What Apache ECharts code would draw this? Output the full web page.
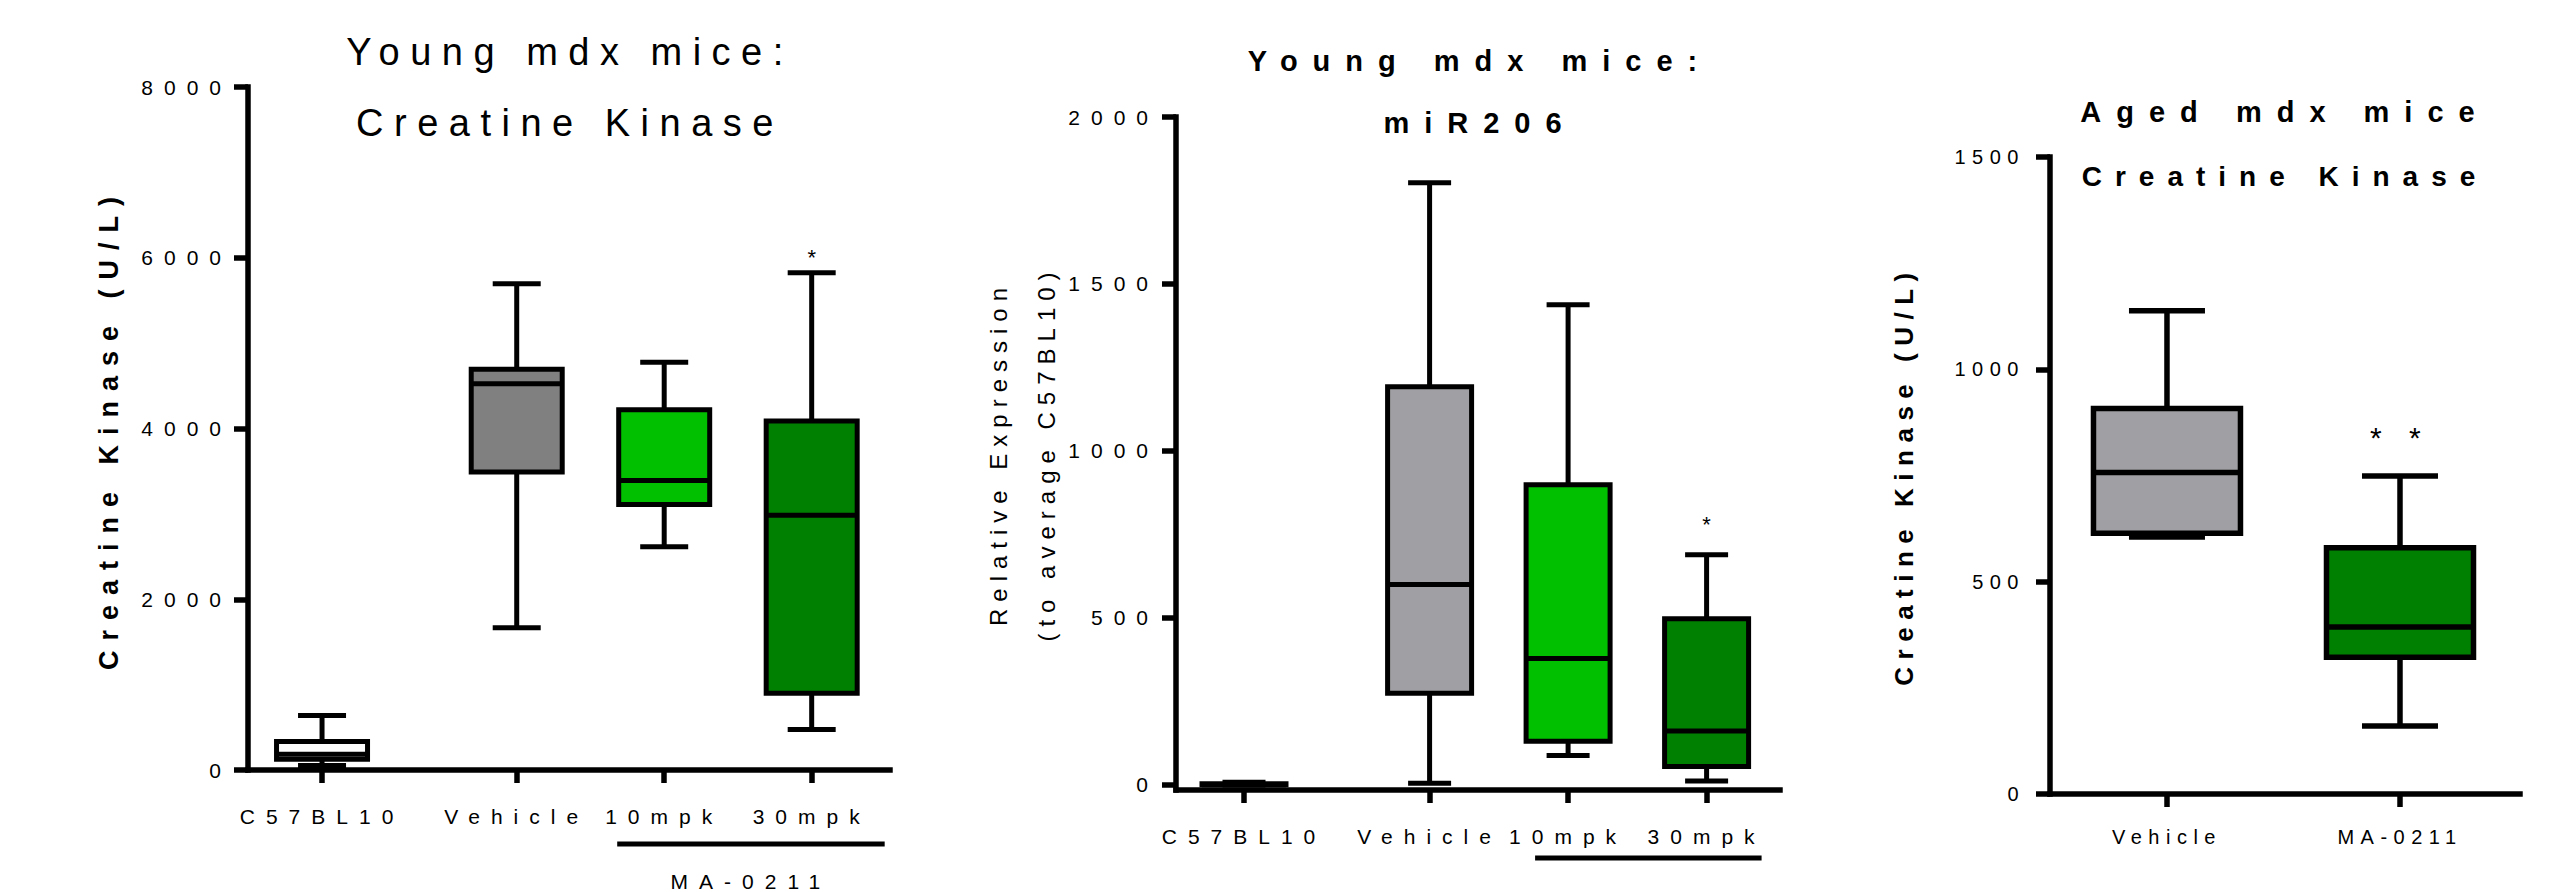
<!DOCTYPE html>
<html>
<head>
<meta charset="utf-8">
<title>mdx mice: Creatine Kinase / miR206</title>
<script src="https://cdn.jsdelivr.net/npm/echarts@6/dist/echarts.min.js"></script>
<style>
  html, body { margin: 0; padding: 0; background: #fff; }
  #ec { width: 2570px; height: 892px; }
  /* wide GraphPad-like tracking, picked by font size */
  #ec text[style*="21px"] { letter-spacing: 11px; }
  #ec text[style*="20px"] { letter-spacing: 6.5px; }
  #ec text[style*="38px"] { letter-spacing: 10.5px; }
  #ec text[style*="29px"] { letter-spacing: 15px; }
  #ec text[style*="28px"] { letter-spacing: 13px; }
  #ec text[style*="27px"] { letter-spacing: 10px; }
  #ec text[style*="26px"] { letter-spacing: 7.5px; }
  #ec text[style*="24px"] { letter-spacing: 7px; }
  #ec text[style*="30px"] { letter-spacing: 9.5px; }
</style>
</head>
<body>
<div id="ec"></div>
<script>
const FONT = 'Liberation Sans';

// Young mdx mice: creatine kinase (U/L), each box is [min, Q1, median, Q3, max]
const ckYoungGroups = ['C57BL10', 'Vehicle', '10mpk', '30mpk'];
const ckYoungBoxes = [
  [53, 125, 184, 334, 639],
  [1665, 3490, 4525, 4695, 5695],
  [2615, 3110, 3390, 4220, 4775],
  [475, 900, 2985, 4088, 5825]
];
const ckYoungSig = ['', '', '', '*'];
const ckYoungTicks = [0, 2000, 4000, 6000, 8000];

// Young mdx mice: miR206 relative expression
const mirGroups = ['C57BL10', 'Vehicle', '10mpk', '30mpk'];
const mirBoxes = [
  [0.3, 0.6, 1, 3.5, 8],
  [5, 275, 600, 1192, 1803],
  [88, 131, 379, 899, 1438],
  [12, 55, 162, 498, 689]
];
const mirSig = ['', '', '', '*'];
const mirTicks = [0, 500, 1000, 1500, 2000];

// Aged mdx mice: creatine kinase (U/L)
const ckAgedGroups = ['Vehicle', 'MA-0211'];
const ckAgedBoxes = [
  [605, 614, 757, 908, 1138],
  [160, 322, 393, 580, 749]
];
const ckAgedSig = ['', '* *'];
const ckAgedTicks = [0, 500, 1000, 1500];

const treatName = 'MA-0211';

// where the groups sit on each x axis (gap after the control group)
const ckYoungSlots = [0, 1.32, 2.32, 3.32];
const mirSlots = [0, 1.34, 2.34, 3.34];
const ckAgedSlots = [0, 1];

const ckYoungFills = ['#ffffff', '#808080', '#00c000', '#008000'];
const mirFills = ['#ffffff', '#a0a0a4', '#00c000', '#008000'];
const ckAgedFills = ['#a0a0a4', '#008000'];

function labelFor(slots, names) {
  return function (v) {
    for (let i = 0; i < slots.length; i++) {
      if (Math.abs(slots[i] - v) < 1e-6) return names[i];
    }
    return '';
  };
}

function boxSeries(idx, slots, boxes, fills, sig, look) {
  return {
    type: 'custom',
    xAxisIndex: idx,
    yAxisIndex: idx,
    silent: true,
    clip: false,
    data: boxes.map((b, i) => [slots[i]].concat(b)),
    encode: { x: 0, y: [1, 2, 3, 4, 5] },
    renderItem: function (params, api) {
      const x = api.value(0);
      const lo = api.coord([x, api.value(1)]);
      const q1 = api.coord([x, api.value(2)]);
      const med = api.coord([x, api.value(3)]);
      const q3 = api.coord([x, api.value(4)]);
      const hi = api.coord([x, api.value(5)]);
      const cx = med[0];
      const hw = look.boxW / 2;
      const cw = look.capW / 2;
      const ln = { stroke: '#000', lineWidth: look.lw };
      const kids = [
        { type: 'line', shape: { x1: cx, y1: q1[1], x2: cx, y2: lo[1] }, style: ln },
        { type: 'line', shape: { x1: cx, y1: q3[1], x2: cx, y2: hi[1] }, style: ln },
        { type: 'line', shape: { x1: cx - cw, y1: lo[1], x2: cx + cw, y2: lo[1] }, style: ln },
        { type: 'line', shape: { x1: cx - cw, y1: hi[1], x2: cx + cw, y2: hi[1] }, style: ln },
        {
          type: 'rect',
          shape: { x: cx - hw, y: q3[1], width: look.boxW, height: q1[1] - q3[1] },
          style: { fill: fills[params.dataIndex], stroke: '#000', lineWidth: look.lw }
        },
        { type: 'line', shape: { x1: cx - hw, y1: med[1], x2: cx + hw, y2: med[1] }, style: ln }
      ];
      const s = sig[params.dataIndex];
      if (s) {
        kids.push({
          type: 'text',
          x: cx,
          y: hi[1] - look.sigGap,
          style: {
            text: s, fill: '#000', fontFamily: FONT, fontSize: look.sigSize,
            align: 'center', verticalAlign: 'middle',
            textAlign: 'center', textVerticalAlign: 'middle'
          }
        });
      }
      return { type: 'group', children: kids };
    }
  };
}

const axisLine = { show: true, onZero: false, lineStyle: { color: '#000', width: 5.5, cap: 'square' } };
const tickStyle = { color: '#000', width: 5.5 };

function xAxis(idx, slots, names, min, max, size, margin) {
  return {
    type: 'value', gridIndex: idx, min: min, max: max,
    axisLine: axisLine,
    axisTick: { show: true, customValues: slots, length: 13, lineStyle: tickStyle },
    axisLabel: {
      customValues: slots, formatter: labelFor(slots, names),
      margin: margin, fontSize: size, fontFamily: FONT, color: '#000'
    },
    splitLine: { show: false }
  };
}

function yAxis(idx, ticks, min, max, size, margin, name, nameStyle, nameGap) {
  return {
    type: 'value', gridIndex: idx, min: min, max: max,
    name: name, nameLocation: 'middle', nameGap: nameGap,
    nameTextStyle: Object.assign({ fontFamily: FONT, color: '#000' }, nameStyle),
    axisLine: axisLine,
    axisTick: { show: true, customValues: ticks, length: 14, lineStyle: tickStyle },
    axisLabel: {
      customValues: ticks, formatter: v => String(v),
      margin: margin, fontSize: size, fontFamily: FONT, color: '#000', padding: [10, 0, 0, 0]
    },
    splitLine: { show: false }
  };
}

const chart = echarts.init(document.getElementById('ec'), null, { renderer: 'svg' });

chart.setOption({
  animation: false,
  backgroundColor: '#fff',
  title: [
    {
      text: 'Young mdx mice:\nCreatine Kinase', left: 570, top: 16, textAlign: 'center', padding: 0,
      textStyle: { fontFamily: FONT, fontSize: 38, fontWeight: 'normal', lineHeight: 71, color: '#000' }
    },
    {
      text: 'Young mdx mice:\nmiR206', left: 1480, top: 30, textAlign: 'center', padding: 0,
      textStyle: { fontFamily: FONT, fontSize: 29, fontWeight: 'bold', lineHeight: 62, color: '#000' }
    },
    {
      text: 'Aged mdx mice\n{b|Creatine Kinase}', left: 2285, top: 80, textAlign: 'center', padding: 0,
      textStyle: {
        fontFamily: FONT, fontSize: 29, fontWeight: 'bold', lineHeight: 64, color: '#000',
        rich: { b: { fontFamily: FONT, fontSize: 28, fontWeight: 'bold', lineHeight: 64, color: '#000' } }
      }
    }
  ],
  grid: [
    { left: 248, top: 87, width: 642, height: 683, outerBoundsMode: 'none' },
    { left: 1176, top: 117, width: 604, height: 673, outerBoundsMode: 'none' },
    { left: 2050, top: 157, width: 470, height: 637, outerBoundsMode: 'none' }
  ],
  xAxis: [
    xAxis(0, ckYoungSlots, ckYoungGroups, -0.502, 3.851, 21, 36),
    xAxis(1, mirSlots, mirGroups, -0.491, 3.87, 21, 36),
    xAxis(2, ckAgedSlots, ckAgedGroups, -0.502, 1.515, 20, 33)
  ],
  yAxis: [
    yAxis(0, ckYoungTicks, 0, 8000, 21, 16, 'Creatine Kinase (U/L)',
      { fontSize: 27, fontWeight: 'bold', lineHeight: 27 }, 126),
    yAxis(1, mirTicks, -15, 2000, 21, 17, 'Relative Expression\n(to average C57BL10)',
      { fontSize: 24, fontWeight: 'normal', lineHeight: 48 }, 106),
    yAxis(2, ckAgedTicks, 0, 1500, 20, 25, 'Creatine Kinase (U/L)',
      { fontSize: 26, fontWeight: 'bold', lineHeight: 26 }, 133)
  ],
  series: [
    boxSeries(0, ckYoungSlots, ckYoungBoxes, ckYoungFills, ckYoungSig,
      { boxW: 91, capW: 48, lw: 5, sigGap: 15, sigSize: 22 }),
    boxSeries(1, mirSlots, mirBoxes, mirFills, mirSig,
      { boxW: 84, capW: 43, lw: 5, sigGap: 30, sigSize: 22 }),
    boxSeries(2, ckAgedSlots, ckAgedBoxes, ckAgedFills, ckAgedSig,
      { boxW: 147, capW: 76, lw: 5.5, sigGap: 38, sigSize: 30 })
  ]
});

// treatment brackets under the dose groups
const a1 = chart.convertToPixel({ xAxisIndex: 0 }, ckYoungSlots[2]);
const b1 = chart.convertToPixel({ xAxisIndex: 0 }, ckYoungSlots[3]);
const a2 = chart.convertToPixel({ xAxisIndex: 1 }, mirSlots[2]);
const b2 = chart.convertToPixel({ xAxisIndex: 1 }, mirSlots[3]);

chart.setOption({
  graphic: [
    { type: 'line', silent: true, shape: { x1: a1 - 47, y1: 844, x2: b1 + 73, y2: 844 }, style: { stroke: '#000', lineWidth: 5 } },
    {
      type: 'text', silent: true, x: (a1 - 47 + b1 + 73) / 2, y: 881,
      style: {
        text: treatName, fill: '#000', fontFamily: FONT, fontSize: 21,
        align: 'center', verticalAlign: 'middle', textAlign: 'center', textVerticalAlign: 'middle'
      }
    },
    { type: 'line', silent: true, shape: { x1: a2 - 33, y1: 858, x2: b2 + 55, y2: 858 }, style: { stroke: '#000', lineWidth: 5 } }
  ]
});
</script>
</body>
</html>
